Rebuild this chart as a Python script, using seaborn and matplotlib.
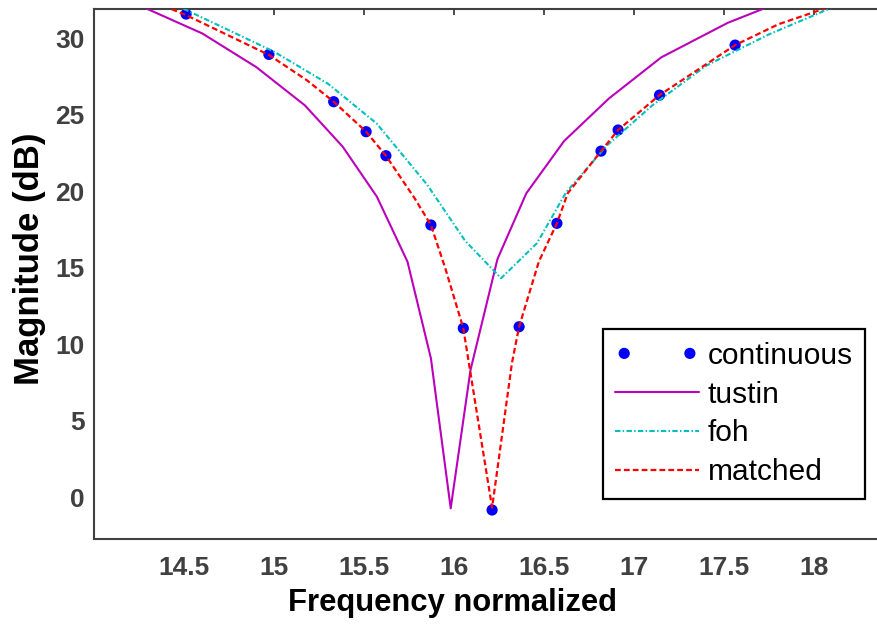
import matplotlib
matplotlib.use("Agg")
import matplotlib.pyplot as plt
import seaborn as sns
import pandas as pd

# ---- data ----
cont_f = [14.51, 14.97, 15.33, 15.51, 15.62, 15.87, 16.05, 16.21, 16.36, 16.57, 16.815, 16.91, 17.14, 17.56]
cont_m = [31.57, 28.93, 25.84, 23.88, 22.31, 17.78, 11.03, -0.85, 11.13, 17.89, 22.61, 23.99, 26.27, 29.54]

tustin_f = [14.20, 14.60, 14.90, 15.17, 15.38, 15.57, 15.74, 15.87, 15.98, 16.09, 16.24, 16.40, 16.61, 16.86, 17.15, 17.52, 17.95]
tustin_m = [32.40, 30.30, 28.10, 25.60, 22.90, 19.63, 15.38, 9.07, -0.74, 8.30, 15.56, 19.85, 23.27, 26.06, 28.74, 31.00, 33.00]

foh_f = [14.30, 14.75, 15.00, 15.30, 15.57, 15.85, 16.06, 16.26, 16.46, 16.62, 16.85, 17.10, 17.40, 17.75, 18.10, 18.45]
foh_m = [33.00, 30.50, 29.10, 27.00, 24.40, 20.40, 16.75, 14.30, 16.60, 19.90, 23.00, 25.60, 28.20, 30.25, 32.00, 33.30]

matched_f = [14.20, 14.51, 14.97, 15.18, 15.33, 15.51, 15.62, 15.78, 15.87, 15.95, 16.05, 16.21, 16.32, 16.36, 16.47, 16.57, 16.63, 16.815, 16.91, 17.14, 17.56, 17.80, 18.05, 18.40]
matched_m = [33.00, 31.50, 28.90, 27.25, 25.84, 23.88, 22.31, 19.52, 17.78, 14.95, 11.03, -0.70, 8.74, 11.13, 15.40, 17.89, 19.85, 22.61, 23.99, 26.27, 29.54, 30.90, 31.90, 33.20]

xticks = [14.5, 15, 15.5, 16, 16.5, 17, 17.5, 18]
xtick_labels = ["14.5", "15", "15.5", "16", "16.5", "17", "17.5", "18"]
yticks = [0, 5, 10, 15, 20, 25, 30]
ytick_labels = ["0", "5", "10", "15", "20", "25", "30"]

sns.set_theme(style="white")
plt.rcParams["font.family"] = ["Liberation Sans", "DejaVu Sans"]

W, H = 877, 625
fig = plt.figure(figsize=(W / 100, H / 100), dpi=100)
ax_w_px = 4.5 * 180
ax_h_px = 539 - 9.3
ax = fig.add_axes([94.3 / W, 1 - 539 / H, ax_w_px / W, ax_h_px / H])

dc = pd.DataFrame({"f": cont_f, "m": cont_m})
dt = pd.DataFrame({"f": tustin_f, "m": tustin_m})
df = pd.DataFrame({"f": foh_f, "m": foh_m})
dm = pd.DataFrame({"f": matched_f, "m": matched_m})

sns.scatterplot(data=dc, x="f", y="m", ax=ax, color="#0000ff", s=65,
                edgecolor="none", label="continuous", zorder=2)
sns.lineplot(data=dt, x="f", y="m", ax=ax, color="#bb00bb", lw=1.5,
             estimator=None, sort=False, label="tustin", zorder=3)
sns.lineplot(data=df, x="f", y="m", ax=ax, color="#00bfbf", lw=1.5,
             estimator=None, sort=False, label="foh", zorder=3,
             linestyle=(0, (2.6, 1.1, 0.7, 1.1)))
sns.lineplot(data=dm, x="f", y="m", ax=ax, color="#ff0000", lw=1.6,
             estimator=None, sort=False, label="matched", zorder=4,
             linestyle=(0, (2.6, 1.4)))

ax.set_xlim(14.0, 18.5)
ax.set_ylim(-2.745, 31.88)
ax.set_xticks(xticks)
ax.set_xticklabels(xtick_labels)
ax.set_yticks(yticks)
ax.set_yticklabels(ytick_labels)

spine_c = "#404040"
for s in ax.spines.values():
    s.set_visible(True)
    s.set_color(spine_c)
    s.set_linewidth(1.5)

ax.tick_params(axis="both", which="major", direction="in", length=4, width=1.3,
               color=spine_c, labelsize=19, labelcolor="#404040",
               top=True, right=True, pad=7)
ax.tick_params(axis="x", pad=12)
for lab in ax.get_xticklabels() + ax.get_yticklabels():
    lab.set_fontweight("bold")

ax.set_xlabel("Frequency normalized", fontsize=22.3, fontweight="bold", color="black")
ax.set_ylabel("Magnitude (dB)", fontsize=25, fontweight="bold", color="black")
ax.xaxis.set_label_coords((452 - 94.3) / ax_w_px, -(603 - 539) / ax_h_px)
ax.xaxis.label.set_va("center")
ax.yaxis.set_label_coords(-(94.3 - 30) / ax_w_px, (539 - 259) / ax_h_px)
ax.yaxis.label.set_va("center")
ax.grid(False)

leg = ax.legend(loc="upper left", bbox_to_anchor=(602.7 / W, 1 - 329.3 / H),
                bbox_transform=fig.transFigure, borderaxespad=0,
                fontsize=21.5, frameon=True, fancybox=False, framealpha=1,
                edgecolor="black", scatterpoints=2, scatteryoffsets=[0.5],
                handlelength=2.8, handletextpad=0.3, labelspacing=0.36,
                borderpad=0.42)
leg.get_frame().set_linewidth(1.6)
for t in leg.get_texts():
    t.set_color("black")

fig.savefig("out.png", dpi=100)
